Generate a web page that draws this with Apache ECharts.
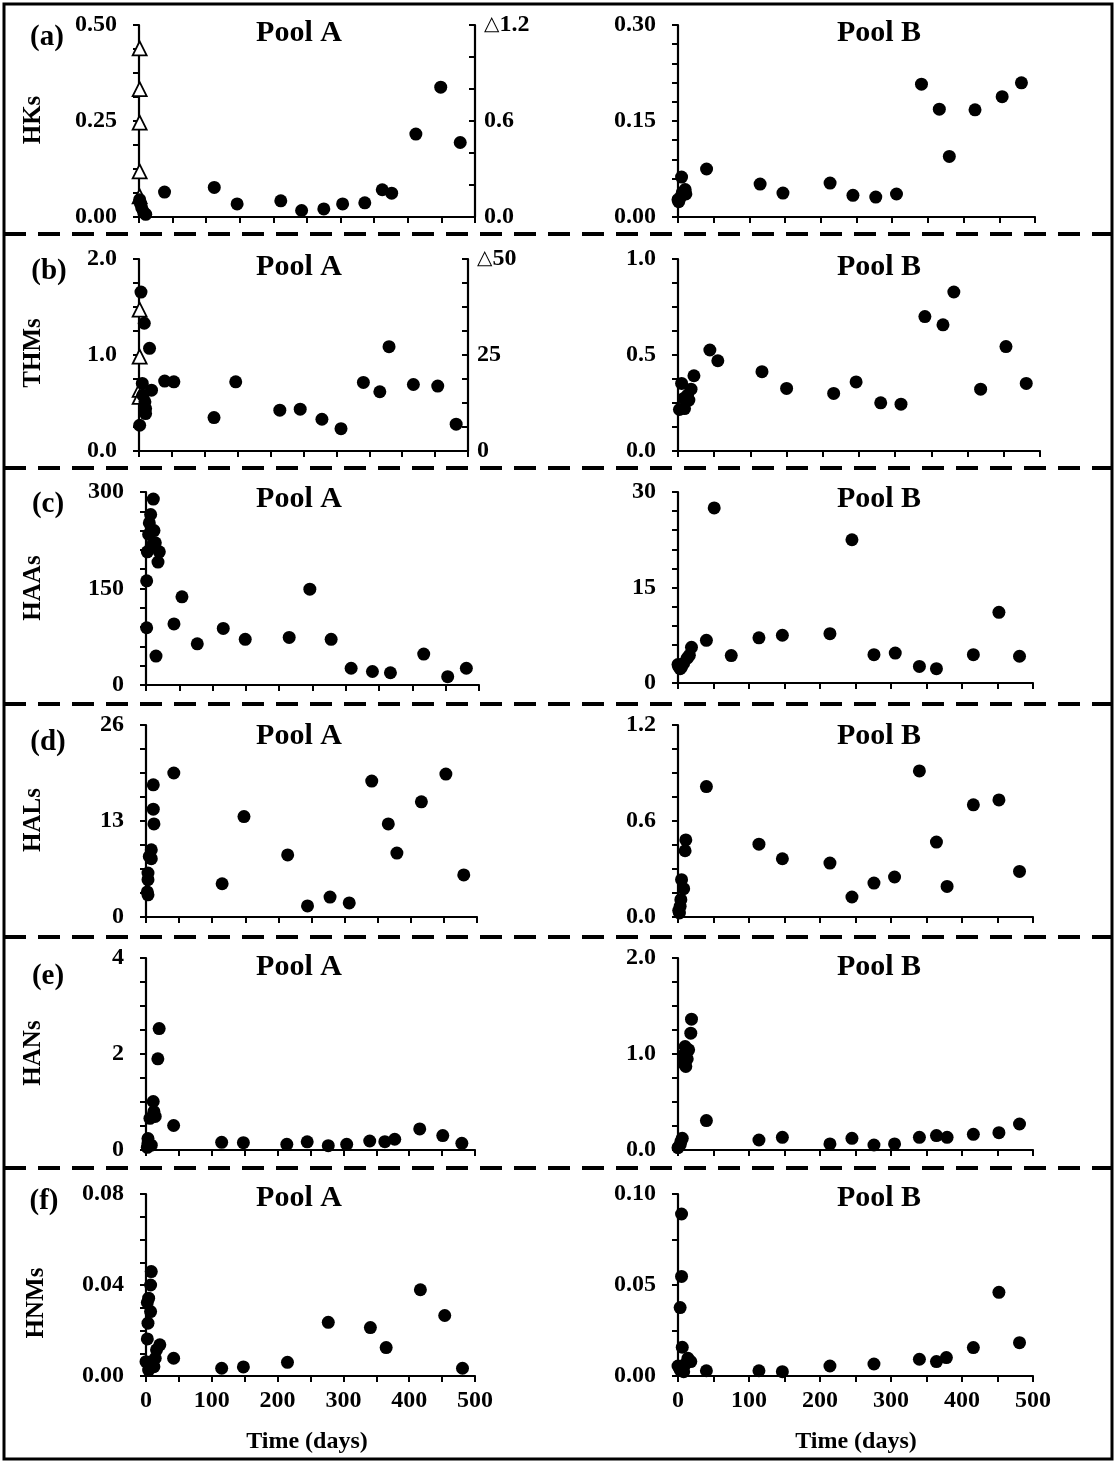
<!DOCTYPE html>
<html><head><meta charset="utf-8">
<script src="https://cdn.jsdelivr.net/npm/echarts@6/dist/echarts.min.js"></script>
<style>html,body{margin:0;padding:0;background:#fff}#c{width:1115px;height:1463px}</style>
</head><body><div id="c"></div>
<script>
// ---------- DATA (days, value) ----------
const HKs_A = [[1,0.045],[2,0.036],[4,0.024],[7,0.012],[10,0.007],[38,0.065],[112,0.077],[146,0.034],[211,0.042],[242,0.017],[275,0.021],[303,0.034],[336,0.037],[362,0.071],[376,0.062],[412,0.216],[449,0.338],[478,0.194]];
const HKs_A_tri = [[1,1.054],[1,0.799],[1,0.59],[1,0.285],[1,0.129]];
const HKs_B = [[0,0.027],[1,0.024],[3,0.030],[5,0.0624],[6,0.038],[10,0.043],[11,0.036],[40,0.075],[115,0.0515],[147,0.0374],[213,0.053],[245,0.0338],[277,0.0312],[306,0.0359],[341,0.2075],[366,0.1685],[380,0.0946],[416,0.1674],[454,0.188],[481,0.2096]];
const THMs_A = [[3,1.655],[8,1.331],[16,1.07],[5,0.704],[19,0.634],[1,0.268],[9,0.512],[10,0.443],[10,0.39],[6,0.58],[39,0.728],[53,0.721],[114,0.348],[147,0.721],[214,0.425],[245,0.436],[278,0.331],[307,0.233],[341,0.714],[366,0.617],[380,1.087],[417,0.693],[454,0.676],[482,0.279]];
const THMs_A_tri = [[1,36.8],[1,24.6],[1,15.9],[1,14.1]];
const THMs_B = [[5,0.352],[8,0.274],[2,0.216],[9,0.221],[13,0.29],[15,0.265],[18,0.322],[22,0.392],[44,0.526],[55,0.47],[116,0.413],[150,0.326],[215,0.30],[246,0.36],[280,0.251],[308,0.244],[341,0.70],[366,0.657],[381,0.828],[418,0.322],[453,0.544],[481,0.352]];
const HAAs_A = [[11,289],[7,265],[5,252],[12,240],[4,234],[14,221],[8,216],[20,207],[2,207],[18,191],[1,162],[1,89],[15,45],[42,95],[54,137],[77,64],[116,88],[149,71],[215,74],[246,149],[278,71],[308,26],[340,21],[367,19],[417,48],[453,13],[481,26]];
const HAAs_B = [[0,2.9],[1,2.6],[3,2.25],[5,2.5],[8,3.1],[13,3.9],[16,4.35],[19,5.6],[40,6.7],[51,27.5],[75,4.3],[114,7.1],[147,7.5],[214,7.75],[245,22.5],[276,4.45],[306,4.7],[340,2.6],[364,2.25],[416,4.45],[452,11.1],[481,4.2]];
const HALs_A = [[42,19.5],[11,17.9],[11,14.6],[12,12.6],[8,9.1],[5,8.2],[8,7.9],[3,5.95],[3,5.05],[3,3.0],[2,3.4],[115,4.5],[148,13.6],[214,8.4],[244,1.5],[278,2.7],[307,1.9],[341,18.4],[366,12.6],[379,8.65],[416,15.6],[453,19.35],[480,5.7]];
const HALs_B = [[40,0.815],[11,0.482],[10,0.414],[5,0.233],[8,0.177],[4,0.108],[3,0.067],[2,0.025],[1,0.04],[114,0.455],[147,0.364],[214,0.337],[245,0.125],[276,0.212],[305,0.25],[340,0.913],[364,0.468],[379,0.191],[416,0.701],[452,0.732],[481,0.285]];
const HANs_A = [[20,2.53],[18,1.9],[11,1.01],[12,0.8],[14,0.7],[6,0.66],[42,0.51],[3,0.24],[3,0.14],[2,0.056],[8,0.1],[115,0.16],[148,0.153],[214,0.118],[245,0.17],[277,0.09],[305,0.118],[340,0.188],[363,0.174],[378,0.224],[416,0.44],[451,0.30],[480,0.14]];
const HANs_B = [[19,1.363],[18,1.217],[10,1.078],[15,1.043],[8,0.99],[13,0.95],[8,0.904],[11,0.87],[40,0.306],[6,0.122],[4,0.087],[3,0.052],[0,0.024],[114,0.104],[147,0.132],[214,0.063],[245,0.122],[276,0.052],[305,0.063],[340,0.132],[364,0.15],[379,0.132],[416,0.163],[452,0.18],[481,0.271]];
const HNMs_A = [[8,0.0459],[7,0.04],[4,0.0342],[2,0.0323],[7,0.0283],[3,0.0232],[2,0.0163],[21,0.0137],[16,0.0115],[14,0.0078],[0,0.0063],[12,0.0041],[4,0.0026],[42,0.0078],[115,0.0034],[148,0.004],[215,0.006],[277,0.0236],[341,0.0213],[365,0.0125],[417,0.0379],[454,0.0266],[481,0.0034]];
const HNMs_B = [[5,0.089],[5,0.0547],[3,0.0376],[6,0.0158],[14,0.0097],[18,0.0079],[10,0.0064],[0,0.0055],[3,0.0033],[8,0.0024],[40,0.0029],[114,0.0029],[147,0.0024],[214,0.0055],[276,0.0066],[340,0.0092],[364,0.0079],[378,0.0101],[416,0.0156],[452,0.046],[481,0.0183]];
const yNames = ['HKs','THMs','HAAs','HALs','HANs','HNMs'];
const letters = ['(a)','(b)','(c)','(d)','(e)','(f)'];
const poolTitles = ['Pool A','Pool B'];
const xName = 'Time (days)';

// ---------- LAYOUT ----------
const FONT = 'Liberation Serif';
const panels = [
 {g:[139,25,336,192], max:0.5, iv:0.25, ms:4, dec:2, data:HKs_A, right:{max:1.2, iv:0.6, ms:3, dec:1, data:HKs_A_tri}},
 {g:[678,25,357,192], max:0.3, iv:0.15, ms:5, dec:2, data:HKs_B},
 {g:[139,259,329,192], max:2, iv:1, ms:4, dec:1, data:THMs_A, right:{max:50, iv:25, ms:4, dec:0, data:THMs_A_tri}},
 {g:[678,259,362,192], max:1, iv:0.5, ms:4, dec:1, data:THMs_B},
 {g:[146,492,333,193], max:300, iv:150, ms:5, dec:0, data:HAAs_A},
 {g:[678,492,355,191], max:30, iv:15, ms:5, dec:0, data:HAAs_B},
 {g:[146,725,331,192], max:26, iv:13, ms:4, dec:0, data:HALs_A},
 {g:[678,725,355,192], max:1.2, iv:0.6, ms:4, dec:1, data:HALs_B},
 {g:[146,958,329,192], max:4, iv:2, ms:4, dec:0, data:HANs_A},
 {g:[678,958,355,192], max:2, iv:1, ms:4, dec:1, data:HANs_B},
 {g:[146,1194,329,182], max:0.08, iv:0.04, ms:4, dec:2, data:HNMs_A},
 {g:[678,1194,355,182], max:0.1, iv:0.05, ms:2, dec:2, data:HNMs_B}
];

const axLine = {show:true, lineStyle:{color:'#000', width:2.2}};
const tickStyle = {color:'#000', width:2};
const lblBase = {fontFamily:FONT, fontWeight:'bold', fontSize:24, color:'#000'};

const grid=[], xAxis=[], yAxis=[], series=[];
panels.forEach((p,i)=>{
  grid.push({left:p.g[0], top:p.g[1], width:p.g[2], height:p.g[3], containLabel:false});
  const bottomRow = i>=10;
  xAxis.push({gridIndex:i, type:'value', min:0, max:500, interval:100,
    axisLine:axLine, axisTick:{show:true, length:6, lineStyle:tickStyle},
    minorTick:{show:true, splitNumber:2, length:6, lineStyle:tickStyle},
    splitLine:{show:false}, minorSplitLine:{show:false},
    axisLabel:Object.assign({show:bottomRow, margin:13}, lblBase)});
  const yi = yAxis.length;
  yAxis.push({gridIndex:i, type:'value', min:0, max:p.max, interval:p.iv, position:'left',
    axisLine:axLine, axisTick:{show:true, length:6, lineStyle:tickStyle},
    minorTick:{show:true, splitNumber:p.ms, length:6, lineStyle:tickStyle},
    splitLine:{show:false}, minorSplitLine:{show:false},
    axisLabel:Object.assign({margin:22, formatter:v=>v.toFixed(p.dec)}, lblBase)});
  if (p.right) {
    const r = p.right;
    yAxis.push({gridIndex:i, type:'value', min:0, max:r.max, interval:r.iv, position:'right',
      axisLine:axLine, axisTick:{show:true, inside:true, length:6, lineStyle:tickStyle},
      minorTick:{show:true, splitNumber:r.ms, length:6, lineStyle:tickStyle},
      splitLine:{show:false}, minorSplitLine:{show:false},
      axisLabel:Object.assign({margin:9, formatter:v=> (Math.abs(v-r.max)<1e-9 ? '{t|△}' : '') + v.toFixed(r.dec),
        rich:{t:{fontFamily:'DejaVu Sans', fontSize:20, color:'#000', padding:[0,0,0,0]}}}, lblBase)});
    series.push({type:'scatter', xAxisIndex:i, yAxisIndex:yi+1, data:r.data, symbol:'triangle', symbolSize:14,
      itemStyle:{color:'#fff', borderColor:'#000', borderWidth:1.8, opacity:1}, z:2, silent:true});
  }
  series.push({type:'scatter', xAxisIndex:i, yAxisIndex:yi, data:p.data, symbol:'circle', symbolSize:13,
    itemStyle:{color:'#000', opacity:1}, z:3, silent:true});
});

const graphic = [];
graphic.push({type:'rect', shape:{x:4,y:4,width:1108,height:1455}, style:{fill:'none', stroke:'#000', lineWidth:3}, z:10});
[234, 468, 704, 937, 1168].forEach(y=>{
  graphic.push({type:'line', shape:{x1:4,y1:y,x2:1112,y2:y}, style:{stroke:'#000', lineWidth:4, lineDash:[22,12]}, z:10});
});
const letterPos = [[47,38],[49,272],[48,505],[48,743],[48,977],[44,1202]];
const titleY = [33,267,499,736,967,1198];
const nameY = [120,353,588,820,1053,1303];
const txt = (x,y,s,size,rot)=>({type:'text', x:x, y:y, rotation:rot||0, z:11,
  style:{text:s, fill:'#000', font:'bold '+size+'px "'+FONT+'"', textAlign:'center', textVerticalAlign:'middle'}});
for (let r=0;r<6;r++){
  graphic.push(txt(letterPos[r][0], letterPos[r][1], letters[r], 29));
  graphic.push(txt(299, titleY[r], poolTitles[0], 30));
  graphic.push(txt(879, titleY[r], poolTitles[1], 30));
  graphic.push(txt(r===5?37:34, nameY[r], yNames[r], 25, Math.PI/2));
}
graphic.push(txt(307, 1442, xName, 24));
graphic.push(txt(856, 1442, xName, 24));

const chart = echarts.init(document.getElementById('c'), null, {renderer:'canvas'});
chart.setOption({animation:false, backgroundColor:'#fff', grid, xAxis, yAxis, series, graphic});
</script></body></html>
